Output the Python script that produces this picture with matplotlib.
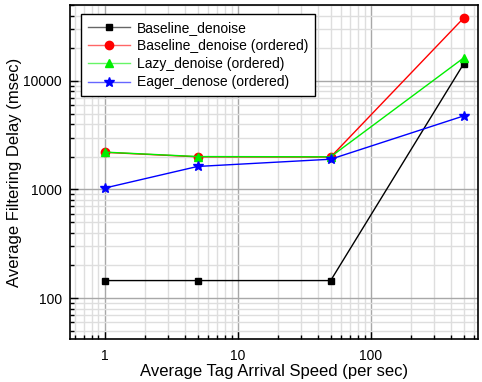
import numpy as np
import matplotlib.pyplot as plt
from matplotlib.colors import to_rgba
from matplotlib.ticker import LogLocator, NullFormatter, FixedLocator, FixedFormatter

plt.rcParams['font.family'] = ['Liberation Sans', 'DejaVu Sans']

speed = [1, 5, 50, 500]
baseline = [145, 145, 145, 14400]
baseline_ordered = [2200, 2000, 1990, 38000]
lazy_ordered = [2210, 2010, 2000, 16300]
eager_ordered = [1030, 1630, 1900, 4760]

labels = ["Baseline_denoise", "Baseline_denoise (ordered)",
          "Lazy_denoise (ordered)", "Eager_denose (ordered)"]

fig = plt.figure(figsize=(4.82, 3.82), dpi=100)
ax = fig.add_axes([70 / 482, 43 / 382, 408 / 482, 334 / 382])

ax.plot(speed, baseline, color="black", marker="s", ms=5, lw=1, label=labels[0])
ax.plot(speed, baseline_ordered, color="red", marker="o", ms=6, lw=1, label=labels[1])
ax.plot(speed, lazy_ordered, color="#00ee00", marker="^", ms=6, lw=1, label=labels[2])
ax.plot(speed, eager_ordered, color="blue", marker="*", ms=7, lw=1, label=labels[3])

ax.set_xscale("log")
ax.set_yscale("log")
ax.set_xlim(0.55, 640)
ax.set_ylim(42, 50000)

ax.xaxis.set_major_locator(FixedLocator([1, 10, 100]))
ax.xaxis.set_major_formatter(FixedFormatter(["1", "10", "100"]))
ax.xaxis.set_minor_locator(LogLocator(base=10, subs=np.arange(2, 10)))
ax.xaxis.set_minor_formatter(NullFormatter())
ax.yaxis.set_major_locator(FixedLocator([100, 1000, 10000]))
ax.yaxis.set_major_formatter(FixedFormatter(["100", "1000", "10000"]))
ax.yaxis.set_minor_locator(LogLocator(base=10, subs=np.arange(2, 10)))
ax.yaxis.set_minor_formatter(NullFormatter())

ax.grid(True, which="major", color="#a8a8a8", lw=1)
ax.grid(True, which="minor", color="#dedede", lw=1)
ax.set_axisbelow(True)

ax.tick_params(which="both", direction="in", top=False, right=False, labelsize=10)
ax.tick_params(which="major", length=6, width=1)
ax.tick_params(which="minor", length=3, width=1)
ax.tick_params(axis="y", which="major", pad=6)
ax.tick_params(axis="x", which="major", pad=7)
for s in ax.spines.values():
    s.set_linewidth(1.2)

ax.set_xlabel("Average Tag Arrival Speed (per sec)", fontsize=12, labelpad=1)
ax.set_ylabel("Average Filtering Delay (msec)", fontsize=12, labelpad=1)

leg = ax.legend(loc="upper left", bbox_to_anchor=(0.027, 0.973), borderaxespad=0,
                fontsize=10, fancybox=False, edgecolor="black", framealpha=1,
                handlelength=3.0, handletextpad=0.5, borderpad=0.5,
                labelspacing=0.3)
leg.get_frame().set_linewidth(1)
# lighter line in legend, solid marker
for h in leg.get_lines():
    c = h.get_color()
    h.set_markerfacecolor(c)
    h.set_markeredgecolor(c)
    r, g, b, _ = to_rgba(c)
    h.set_color((r + (1 - r) * 0.4, g + (1 - g) * 0.4, b + (1 - b) * 0.4))

fig.savefig("out.png", dpi=100)
